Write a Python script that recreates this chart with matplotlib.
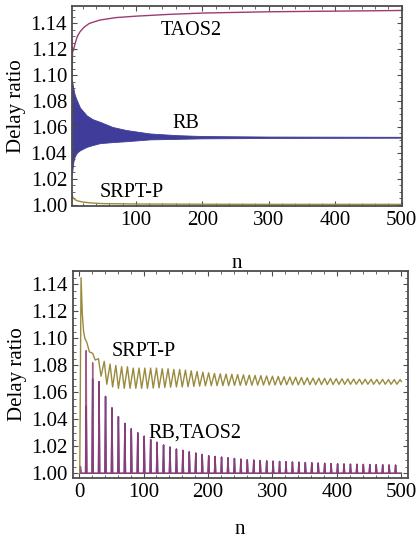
import matplotlib.pyplot as plt
from matplotlib.ticker import MultipleLocator

plt.rcParams['font.family'] = ['Liberation Serif', 'DejaVu Serif']

BLUE = '#3f3d99'
PINK = '#993d71'
OLIVE = '#998b3d'

# --- upper panel: smooth curves, RB as an oscillating band
taos_n = [4, 5, 6, 9, 12, 16, 22, 30, 46, 70, 100, 150, 200, 300, 400, 500]
taos_v = [1.099, 1.121, 1.119, 1.125, 1.130, 1.1335, 1.137, 1.140, 1.1426,
          1.1445, 1.1456, 1.147, 1.148, 1.149, 1.1495, 1.150]

rb_n = [4, 6, 8, 11, 16, 26, 35, 46, 65, 86, 121, 161, 200, 300, 400, 500]
rb_hi = [1.096, 1.090, 1.085, 1.081, 1.075, 1.069, 1.066, 1.064, 1.060,
         1.0576, 1.055, 1.0537, 1.053, 1.0526, 1.0525, 1.0524]
rb_lo = [1.024, 1.033, 1.037, 1.040, 1.042, 1.0446, 1.046, 1.0475, 1.0483,
         1.049, 1.0504, 1.0508, 1.0512, 1.0515, 1.0516, 1.0517]

srpt_n = [4, 5, 8, 12, 20, 35, 50, 100, 200, 300, 500]
srpt_v = [1.008, 1.006, 1.004, 1.003, 1.002, 1.0012, 1.0008, 1.0005,
          1.0003, 1.0002, 1.0002]

# --- lower panel: periodic spikes (RB, TAOS2) and wavy SRPT-P
spike_n = list(range(11, 492, 10))
taos_spk = [1.091, 1.082, 1.068, 1.057, 1.0485, 1.042, 1.037, 1.033, 1.030,
            1.0275, 1.025, 1.023, 1.021, 1.0195, 1.018, 1.017, 1.016, 1.015,
            1.014, 1.013, 1.0125, 1.012, 1.0115, 1.011, 1.0105, 1.010,
            1.0098, 1.0095, 1.0092, 1.009, 1.0088, 1.0086, 1.0084, 1.0082,
            1.008, 1.0078, 1.0076, 1.0074, 1.0072, 1.007, 1.0069, 1.0068,
            1.0067, 1.0066, 1.0065, 1.0064, 1.0063, 1.0062, 1.0061]
rb_spk = [1.050, 1.070] + taos_spk[2:]

srpt_head_n = [1, 3, 5, 7, 9]
srpt_head_v = [1.000, 1.145, 1.118, 1.105, 1.100]
srpt_hi_n = list(range(12, 499, 9))
srpt_hi = [1.097, 1.089, 1.085, 1.083, 1.081, 1.080, 1.079, 1.079, 1.078,
           1.078, 1.078, 1.078, 1.078, 1.0775, 1.0775, 1.077, 1.077, 1.0765,
           1.076, 1.0755, 1.075, 1.0745, 1.074, 1.0738, 1.0736, 1.0734,
           1.0732, 1.073, 1.0728, 1.0726, 1.0724, 1.0722, 1.072, 1.0718,
           1.0716, 1.0714, 1.0712, 1.071, 1.0708, 1.0706, 1.0705, 1.0704,
           1.0703, 1.0702, 1.0701, 1.07, 1.0699, 1.0698, 1.0697, 1.0697,
           1.0696, 1.0696, 1.0695, 1.0695, 1.0695]
srpt_lo_n = list(range(16, 494, 9))
srpt_lo = [1.090, 1.084, 1.072, 1.066, 1.064, 1.063, 1.063, 1.063, 1.063,
           1.063, 1.063, 1.0632, 1.0634, 1.0636, 1.0638, 1.064, 1.064,
           1.0642, 1.0644, 1.0646, 1.0648, 1.065, 1.065, 1.065, 1.065,
           1.0652, 1.0652, 1.0653, 1.0653, 1.0654, 1.0654, 1.0655, 1.0655,
           1.0655, 1.0656, 1.0656, 1.0656, 1.0657, 1.0657, 1.0657, 1.0658,
           1.0658, 1.0658, 1.0659, 1.0659, 1.066, 1.066, 1.066, 1.066,
           1.066, 1.066, 1.066, 1.066, 1.066]
srpt_end = (500, 1.068)


def spike_path(ns, hs):
    xs, ys = [1, 2, 3], [1.0, 1.005, 1.0]
    for p, h in zip(ns, hs):
        xs += [p - 1, p, p + 1]
        ys += [1.0, h, 1.0]
    xs.append(500)
    ys.append(1.0)
    return xs, ys


def style(ax, xpad):
    for s in ax.spines.values():
        s.set_color('#4d4d4d')
        s.set_linewidth(1.3)
    ax.tick_params(which='both', direction='in', top=True, right=True,
                   colors='#4d4d4d', labelcolor='black', labelsize=15)
    ax.tick_params(which='major', length=3.5, width=0.8)
    ax.tick_params(which='minor', length=2, width=0.6)
    ax.xaxis.set_major_locator(MultipleLocator(100))
    ax.xaxis.set_minor_locator(MultipleLocator(20))
    ax.yaxis.set_major_locator(MultipleLocator(0.02))
    ax.yaxis.set_minor_locator(MultipleLocator(0.005))
    ax.yaxis.set_major_formatter(plt.FormatStrFormatter('%.2f'))
    ax.set_xlabel('n', fontsize=15, labelpad=xpad)
    ax.set_ylabel('Delay ratio', fontsize=15, labelpad=3)


fig = plt.figure(figsize=(4.2, 5.38), dpi=100)
ax1 = fig.add_axes([0.1714, 0.617, 0.785, 0.3717])
ax2 = fig.add_axes([0.173, 0.1115, 0.798, 0.3848])

ax1.fill_between(rb_n, rb_lo, rb_hi, color=BLUE, lw=0.6, edgecolor=BLUE)
ax1.plot(taos_n, taos_v, color=PINK, lw=1.0)
ax1.plot(srpt_n, srpt_v, color=OLIVE, lw=1.0)
ax1.set_xlim(4, 500)
ax1.set_ylim(0.9989, 1.1534)
ax1.text(184, 1.1343, 'TAOS2', fontsize=14.5, ha='center', va='center')
ax1.text(176, 1.063, 'RB', fontsize=14.5, ha='center', va='center')
ax1.text(94, 1.009, 'SRPT-P', fontsize=14.5, ha='center', va='center')
style(ax1, 17)

# SRPT-P wave: head, then alternating crests and troughs
wave = sorted(list(zip(srpt_hi_n, srpt_hi)) + list(zip(srpt_lo_n, srpt_lo)))
sx = srpt_head_n + [p[0] for p in wave] + [srpt_end[0]]
sy = srpt_head_v + [p[1] for p in wave] + [srpt_end[1]]

bx, by = spike_path(spike_n, rb_spk)
px, py = spike_path(spike_n, taos_spk)
ax2.plot(bx, by, color=BLUE, lw=1.0)
ax2.plot(px, py, color=PINK, lw=1.0, alpha=0.85)
ax2.plot(sx, sy, color=OLIVE, lw=1.0)
ax2.set_xlim(-10, 510)
ax2.set_ylim(0.9965, 1.150)
ax2.text(100, 1.0904, 'SRPT-P', fontsize=14.5, ha='center', va='center')
ax2.text(180, 1.030, 'RB,TAOS2', fontsize=14.5, ha='center', va='center')
style(ax2, 13)

fig.savefig('out.png', dpi=100)
